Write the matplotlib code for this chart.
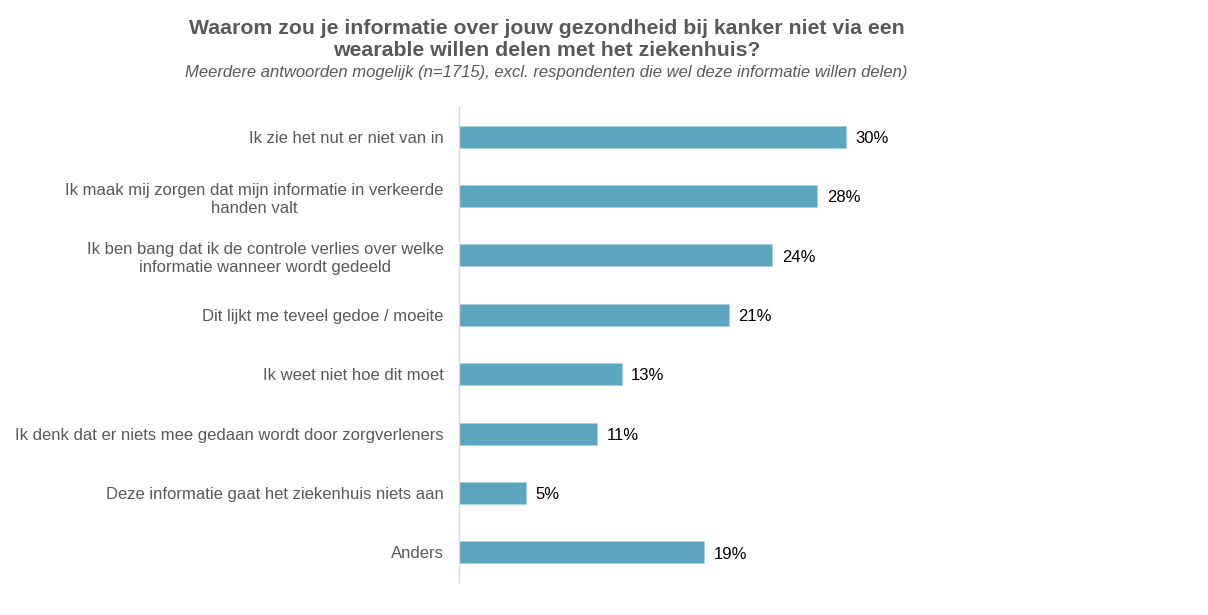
import matplotlib
matplotlib.use("Agg")
import matplotlib.pyplot as plt

categories = [
    "Ik zie het nut er niet van in",
    "Ik maak mij zorgen dat mijn informatie in verkeerde\nhanden valt",
    "Ik ben bang dat ik de controle verlies over welke\ninformatie wanneer wordt gedeeld",
    "Dit lijkt me teveel gedoe / moeite",
    "Ik weet niet hoe dit moet",
    "Ik denk dat er niets mee gedaan wordt door zorgverleners",
    "Deze informatie gaat het ziekenhuis niets aan",
    "Anders",
]
values = [30.0, 27.75, 24.3, 20.9, 12.6, 10.7, 5.2, 19.0]
value_labels = ["30%", "28%", "24%", "21%", "13%", "11%", "5%", "19%"]

title = "Waarom zou je informatie over jouw gezondheid bij kanker niet via een\nwearable willen delen met het ziekenhuis?"
subtitle = "Meerdere antwoorden mogelijk (n=1715), excl. respondenten die wel deze informatie willen delen)"

plt.rcParams['font.family'] = ['Liberation Sans', 'DejaVu Sans']

W, H = 1208, 615
fig = plt.figure(figsize=(W / 100, H / 100), dpi=100)
left = 459 / W
bottom = 1 - 582 / H
top = 1 - 107 / H
xmax = 40
width = xmax * 12.9 / W
ax = fig.add_axes([left, bottom, width, top - bottom])

y = list(range(len(categories)))
ax.barh(y, values, height=0.37, color="#5BA5BE", edgecolor="#A9D0DE", linewidth=0.6)
for yi, v, lab in zip(y, values, value_labels):
    ax.text(v + 0.75, yi + 0.03, lab, va="center", ha="left", fontsize=12, color="#000000")

ax.set_ylim(len(categories) - 0.5, -0.5)
ax.set_xlim(0, xmax)
ax.set_yticks(y)
ax.set_yticklabels(categories, fontsize=12, color="#595959", multialignment="center",
                   linespacing=1.25)
ax.tick_params(axis="y", length=0, pad=11)
ax.set_xticks([])
for s in ["top", "right", "bottom"]:
    ax.spines[s].set_visible(False)
ax.spines["left"].set_color("#D9D9D9")
ax.spines["left"].set_linewidth(1.0)

fig.text(547 / W, 1 - 39 / H, title, ha="center", va="center", fontsize=15.3,
         fontweight="bold", color="#595959", linespacing=1.2)
fig.text(546 / W, 1 - 72 / H, subtitle, ha="center", va="center", fontsize=12,
         style="italic", color="#595959")

fig.savefig("out.png", dpi=100)
